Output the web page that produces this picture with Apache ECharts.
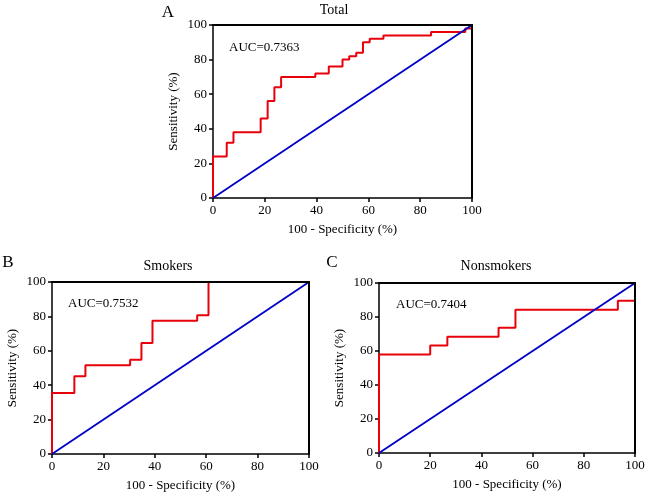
<!DOCTYPE html>
<html lang="en">
<head>
    <meta charset="UTF-8">
    <title>ROC</title>
    <script src="https://cdn.jsdelivr.net/npm/echarts@6/dist/echarts.min.js"></script>
    <style>
        html, body { margin: 0; padding: 0; background: #fff; }
        #main { width: 648px; height: 496px; }
    </style>
</head>
<body>
<div id="main"></div>
<script>
    // ROC points [100 - specificity, sensitivity]
    var totalRoc = [[0, 0], [0, 24], [5.3, 32], [7.9, 38], [18.4, 46], [21.1, 56], [23.7, 64], [26.3, 70],
        [39.5, 72], [44.7, 76], [50, 80], [52.6, 82], [55.3, 84], [57.9, 90], [60.5, 92], [65.8, 94],
        [84.2, 96], [97.4, 98], [100, 100]];
    var smokersRoc = [[0, 0], [0, 35.5], [8.7, 45.2], [13, 51.6], [30.4, 54.8], [34.8, 64.5], [39.1, 77.4],
        [56.5, 80.6], [60.9, 100], [100, 100]];
    var nonsmokersRoc = [[0, 0], [0, 57.9], [20, 63.2], [26.7, 68.4], [46.7, 73.7], [53.3, 84.2],
        [93.3, 89.5], [100, 94.7], [100, 100]];
    var diagonal = [[0, 0], [100, 100]];
    var axisMin = 0, axisMax = 100, axisStep = 20;

    var panelTitles = ['Total', 'Smokers', 'Nonsmokers'];
    var panelLetters = ['A', 'B', 'C'];
    var aucLabels = ['AUC=0.7363', 'AUC=0.7532', 'AUC=0.7404'];
    var xName = '100 - Specificity (%)';
    var yName = 'Sensitivity (%)';

    var font = 'Liberation Serif';
    var grids = [
        {left: 213, top: 25, width: 259, height: 173},
        {left: 52, top: 282, width: 257, height: 172},
        {left: 379, top: 283, width: 256, height: 170}
    ];

    var xAxes = [], yAxes = [], series = [];
    var rocs = [totalRoc, smokersRoc, nonsmokersRoc];
    grids.forEach(function (g, i) {
        // bottom and left axes with ticks
        xAxes.push({
            gridIndex: i, type: 'value', min: axisMin, max: axisMax, interval: axisStep,
            name: xName, nameLocation: 'middle', nameGap: 25,
            nameTextStyle: {fontFamily: font, fontSize: 13, color: '#000'},
            axisLine: {onZero: false, lineStyle: {color: '#000', width: 1.5}},
            axisTick: {length: 4, lineStyle: {color: '#000', width: 1.5}},
            axisLabel: {fontFamily: font, fontSize: 13, color: '#000', margin: 6},
            splitLine: {show: false}
        });
        // top / right: plain frame lines drawn over the curves (own layer)
        xAxes.push({
            gridIndex: i, type: 'value', min: axisMin, max: axisMax, position: 'top', zlevel: 1,
            axisLine: {show: true, onZero: false, lineStyle: {color: '#000', width: 2}},
            axisTick: {show: false}, axisLabel: {show: false}, splitLine: {show: false}
        });
        yAxes.push({
            gridIndex: i, type: 'value', min: axisMin, max: axisMax, interval: axisStep,
            name: yName, nameLocation: 'middle', nameGap: 33,
            nameTextStyle: {fontFamily: font, fontSize: 13, color: '#000'},
            axisLine: {show: true, onZero: false, lineStyle: {color: '#000', width: 1.5}},
            axisTick: {show: true, length: 4, lineStyle: {color: '#000', width: 1.5}},
            axisLabel: {fontFamily: font, fontSize: 13, color: '#000', margin: 6},
            splitLine: {show: false}
        });
        yAxes.push({
            gridIndex: i, type: 'value', min: axisMin, max: axisMax, position: 'right', zlevel: 1,
            axisLine: {show: true, onZero: false, lineStyle: {color: '#000', width: 2}},
            axisTick: {show: false}, axisLabel: {show: false}, splitLine: {show: false}
        });

        series.push({
            type: 'line', xAxisIndex: 2 * i, yAxisIndex: 2 * i, data: rocs[i], step: 'end',
            symbol: 'none', z: 2, lineStyle: {color: '#e8000a', width: 2}
        });
        series.push({
            type: 'line', xAxisIndex: 2 * i, yAxisIndex: 2 * i, data: diagonal,
            symbol: 'none', z: 3, lineStyle: {color: '#0000c8', width: 1.8}
        });
    });

    // text positions
    var letterPos = [[168, 13], [8, 263], [332, 263]];
    var titlePos = [[334, 10], [168, 266], [496, 266]];
    var aucPos = [[229, 48], [68, 304], [396, 305]];
    var graphics = [];
    for (var i = 0; i < 3; i++) {
        graphics.push({type: 'text', x: letterPos[i][0], y: letterPos[i][1],
            style: {text: panelLetters[i], font: '17px "' + font + '"', fill: '#000', textAlign: 'center', textVerticalAlign: 'middle'}});
        graphics.push({type: 'text', x: titlePos[i][0], y: titlePos[i][1],
            style: {text: panelTitles[i], font: '14px "' + font + '"', fill: '#000', textAlign: 'center', textVerticalAlign: 'middle'}});
        graphics.push({type: 'text', x: aucPos[i][0], y: aucPos[i][1],
            style: {text: aucLabels[i], font: '13px "' + font + '"', fill: '#000', textAlign: 'left', textVerticalAlign: 'middle'}});
    }

    var myChart = echarts.init(document.getElementById('main'));
    var option = {
        animation: false,
        backgroundColor: '#fff',
        grid: grids,
        xAxis: xAxes,
        yAxis: yAxes,
        series: series,
        graphic: graphics
    };
    myChart.setOption(option);
</script>
</body>
</html>
